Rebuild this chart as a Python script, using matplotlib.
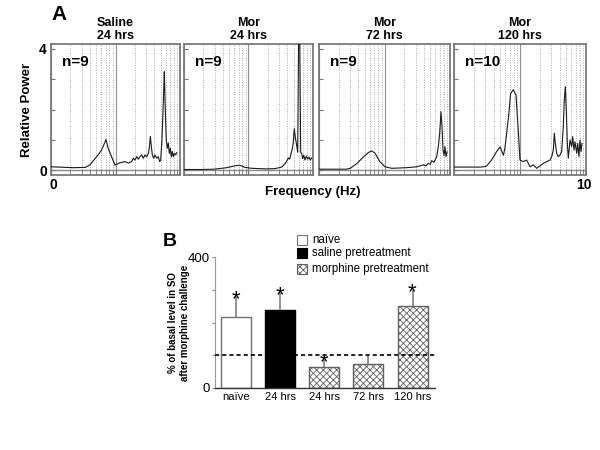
import matplotlib
matplotlib.use('Agg')
import matplotlib.pyplot as plt
from matplotlib.patches import Rectangle
from matplotlib.ticker import LogLocator, NullFormatter
import numpy as np

plt.rcParams['font.family'] = ['Liberation Sans', 'DejaVu Sans']
plt.rcParams['hatch.linewidth'] = 0.6
plt.rcParams['hatch.color'] = '#555555'

# ---------------- Panel A data ----------------
titles = ['Saline\n24 hrs', 'Mor\n24 hrs', 'Mor\n72 hrs', 'Mor\n120 hrs']
n_labels = ['n=9', 'n=9', 'n=9', 'n=10']

freq_sal24 = [0.10, 0.22, 0.34, 0.40, 0.51, 0.61, 0.69, 0.71, 0.77, 0.87,
              0.98, 1.07, 1.17, 1.40, 1.58, 1.78, 1.89, 2.00, 2.13, 2.26,
              2.40, 2.55, 2.70, 2.87, 3.05, 3.23, 3.34, 3.47, 3.59, 3.72,
              3.91, 4.09, 4.35, 4.61, 4.84, 5.02, 5.20, 5.40, 5.59, 5.71,
              5.92, 6.13, 6.36, 6.59, 6.83, 7.08, 7.33, 7.60, 7.87, 8.16,
              8.57, 8.89]
pow_sal24 = [0.12, 0.09, 0.10, 0.18, 0.45, 0.67, 0.94, 1.02, 0.73, 0.45,
             0.18, 0.21, 0.25, 0.29, 0.24, 0.29, 0.40, 0.34, 0.45, 0.37,
             0.45, 0.51, 0.40, 0.51, 0.45, 0.56, 0.73, 1.12, 0.80, 0.51,
             0.40, 0.51, 0.40, 0.45, 0.29, 0.34, 0.84, 1.66, 2.64, 3.24,
             1.98, 1.00, 0.73, 0.90, 0.56, 0.73, 0.45, 0.62, 0.45, 0.56,
             0.51, 0.58]

freq_mor24 = [0.10, 0.18, 0.29, 0.32, 0.46, 0.58, 0.70, 0.78, 0.88, 1.12,
              1.91, 2.58, 3.27, 3.68, 3.91, 4.14, 4.35, 4.56, 4.78, 4.95,
              5.13, 5.32, 5.59, 5.79, 6.00, 6.22, 6.44, 6.68, 6.92, 7.18,
              7.52, 7.87, 8.28, 8.67, 9.08, 9.55]
pow_mor24 = [0.03, 0.03, 0.04, 0.05, 0.09, 0.14, 0.17, 0.15, 0.10, 0.07,
             0.05, 0.06, 0.11, 0.22, 0.30, 0.41, 0.37, 0.55, 0.71, 0.93,
             1.37, 1.09, 0.82, 0.60, 4.60, 4.60, 0.60, 0.55, 0.39, 0.50,
             0.34, 0.47, 0.37, 0.44, 0.34, 0.41]

freq_mor72 = [0.10, 0.26, 0.30, 0.38, 0.48, 0.57, 0.64, 0.72, 0.85, 1.02,
              1.29, 2.18, 3.10, 3.91, 4.30, 4.66, 5.00, 5.26, 5.70, 6.26,
              6.63, 6.96, 7.29, 7.55, 7.82, 8.10, 8.39, 8.69, 9.00]
pow_mor72 = [0.04, 0.04, 0.07, 0.23, 0.45, 0.59, 0.64, 0.56, 0.29, 0.12,
             0.07, 0.09, 0.12, 0.18, 0.15, 0.23, 0.20, 0.32, 0.27, 0.45,
             0.78, 1.22, 1.93, 1.44, 0.67, 0.50, 0.78, 0.45, 0.61]

freq_mor120 = [0.10, 0.26, 0.31, 0.37, 0.44, 0.50, 0.56, 0.59, 0.67, 0.72,
               0.79, 0.87, 0.94, 1.00, 1.12, 1.26, 1.42, 1.59, 1.79, 2.01,
               2.25, 2.54, 2.85, 3.02, 3.20, 3.31, 3.43, 3.60, 3.80, 4.04,
               4.28, 4.53, 4.69, 4.86, 5.03, 5.21, 5.40, 5.73, 6.07, 6.28,
               6.58, 6.81, 7.23, 7.48, 7.83, 8.11, 8.40, 8.69]
pow_mor120 = [0.11, 0.11, 0.14, 0.34, 0.61, 0.77, 0.50, 0.72, 1.75, 2.52,
              2.65, 2.47, 1.33, 0.34, 0.29, 0.34, 0.12, 0.18, 0.07, 0.15,
              0.23, 0.29, 0.34, 0.45, 0.67, 1.22, 0.89, 0.56, 0.45, 0.51,
              0.62, 1.44, 2.31, 2.75, 1.98, 0.89, 0.40, 1.00, 0.78, 1.11,
              0.67, 0.94, 0.56, 0.89, 0.45, 1.00, 0.62, 0.89]

freqs = [freq_sal24, freq_mor24, freq_mor72, freq_mor120]
powers = [pow_sal24, pow_mor24, pow_mor72, pow_mor120]

# ---------------- Panel B data ----------------
groups = ['naïve', '24 hrs', '24 hrs', '72 hrs', '120 hrs']
group_type = ['naive', 'saline', 'morphine', 'morphine', 'morphine']
means = [218, 238, 65, 73, 250]
sems = [61, 53, 20, 25, 49]
significant = [True, True, True, False, True]
basal_level = 100
legend_labels = ['naïve', 'saline pretreatment', 'morphine pretreatment']

W, H = 600, 450
fig = plt.figure(figsize=(6, 4.5), dpi=100)

def fx(px):
    return px / W

def fy(py):
    return 1 - py / H

# ---------- Panel A ----------
lefts = [51, 184, 319, 454]
rights = [180, 313, 450, 586]
top, bottom = 44, 175
for i in range(4):
    ax = fig.add_axes([fx(lefts[i]), fy(bottom), (rights[i] - lefts[i]) / W, (bottom - top) / H])
    ax.set_xscale('log')
    ax.set_xlim(0.1, 10)
    ax.set_ylim(-0.15, 4.15)
    ax.xaxis.set_major_locator(LogLocator(base=10))
    ax.xaxis.set_minor_locator(LogLocator(base=10, subs=np.arange(2, 10)))
    ax.xaxis.set_major_formatter(NullFormatter())
    ax.xaxis.set_minor_formatter(NullFormatter())
    ax.grid(which='minor', axis='x', color='#aaaaaa', ls=(0, (1, 1.5)), lw=0.7)
    ax.grid(which='major', axis='x', color='#909090', ls='-', lw=0.8)
    ax.axhline(0, color='#8a8a8a', lw=1.0, zorder=1)
    ax.plot(freqs[i], powers[i], color='#1a1a1a', lw=0.8, zorder=3)
    ax.set_yticks([0, 1, 2, 3, 4])
    if i == 0:
        ax.set_yticklabels(['0', '', '', '', '4'], fontsize=10, fontweight='bold')
    else:
        ax.set_yticklabels([])
    ax.tick_params(axis='y', direction='in', length=3, color='#777777', pad=3)
    ax.tick_params(axis='x', which='both', direction='in', length=4, color='#777777',
                   top=False)
    for s in ax.spines.values():
        s.set_color('#7a7a7a')
        s.set_linewidth(1.3)
    ax.text(0.085, 0.86, n_labels[i], transform=ax.transAxes, fontsize=11,
            fontweight='bold', ha='left', va='center')
    fig.text(fx((lefts[i] + rights[i]) / 2), fy(29.5), titles[i], ha='center',
             va='center', fontsize=9, fontweight='bold', linespacing=1.05)

fig.text(fx(51), fy(15), 'A', fontsize=15, fontweight='bold', ha='left', va='center')
fig.text(fx(27), fy(110), 'Relative Power', rotation=90, fontsize=9.5,
         fontweight='bold', ha='center', va='center')
fig.text(fx(313), fy(192), 'Frequency (Hz)', fontsize=9.5, fontweight='bold',
         ha='center', va='center')
fig.text(fx(53), fy(185), '0', fontsize=10, fontweight='bold', ha='center', va='center')
fig.text(fx(584), fy(185), '10', fontsize=10, fontweight='bold', ha='center', va='center')

# ---------- Panel B ----------
axb = fig.add_axes([fx(215), fy(388), 220 / W, 131 / H])
x = np.arange(len(groups))
styles = {
    'naive': dict(color='white', edgecolor='#707070', hatch=None),
    'saline': dict(color='black', edgecolor='black', hatch=None),
    'morphine': dict(color='white', edgecolor='#606060', hatch='xxxxx'),
}
for xi, m, g in zip(x, means, group_type):
    st = styles[g]
    axb.bar(xi, m, width=0.68, color=st['color'], edgecolor=st['edgecolor'],
            hatch=st['hatch'], linewidth=1.0, zorder=2)
axb.errorbar(x, means, yerr=[np.zeros(len(sems)), sems], fmt='none',
             ecolor='#808080', elinewidth=1.2, capsize=0, zorder=3)
for xi, m, s, sig in zip(x, means, sems, significant):
    if sig:
        axb.annotate('*', (xi, m + s), xytext=(0, -6), textcoords='offset points',
                     ha='center', va='baseline', fontsize=16, zorder=4)
axb.axhline(basal_level, color='black', lw=1.2, ls=(0, (2.5, 1.8)), zorder=5)
axb.set_xlim(-0.48, 4.51)
axb.set_ylim(0, 400)
axb.set_xticks(x)
axb.set_xticklabels(groups, fontsize=8)
axb.tick_params(axis='x', length=0, pad=3)
axb.set_yticks([0, 100, 200, 300, 400])
axb.set_yticklabels(['0', '', '', '', '400'], fontsize=9.5)
axb.tick_params(axis='y', length=2, color='#888888', pad=1.5)
axb.spines['top'].set_visible(False)
axb.spines['right'].set_visible(False)
axb.spines['left'].set_color('#999999')
axb.spines['left'].set_linewidth(0.8)
axb.spines['bottom'].set_color('#333333')
axb.spines['bottom'].set_linewidth(1.0)

fig.text(fx(163), fy(241), 'B', fontsize=14, fontweight='bold', ha='left', va='center')
fig.text(fx(179), fy(322.5), '% of basal level in SO\nafter morphine challenge',
         rotation=90, fontsize=7, fontweight='bold', ha='center', va='center',
         multialignment='center', linespacing=1.15)

# legend drawn manually
leg_y = [240, 253, 269]
for lab, yy, g in zip(legend_labels, leg_y, ['naive', 'saline', 'morphine']):
    st = styles[g]
    fig.patches.append(Rectangle((fx(297), fy(yy + 5)), 10 / W, 10 / H,
                                 transform=fig.transFigure, facecolor=st['color'],
                                 edgecolor=st['edgecolor'], hatch=st['hatch'],
                                 linewidth=0.8))
    fig.text(fx(312), fy(yy), lab, fontsize=8.3, ha='left', va='center')

fig.savefig('out.png', dpi=100)
